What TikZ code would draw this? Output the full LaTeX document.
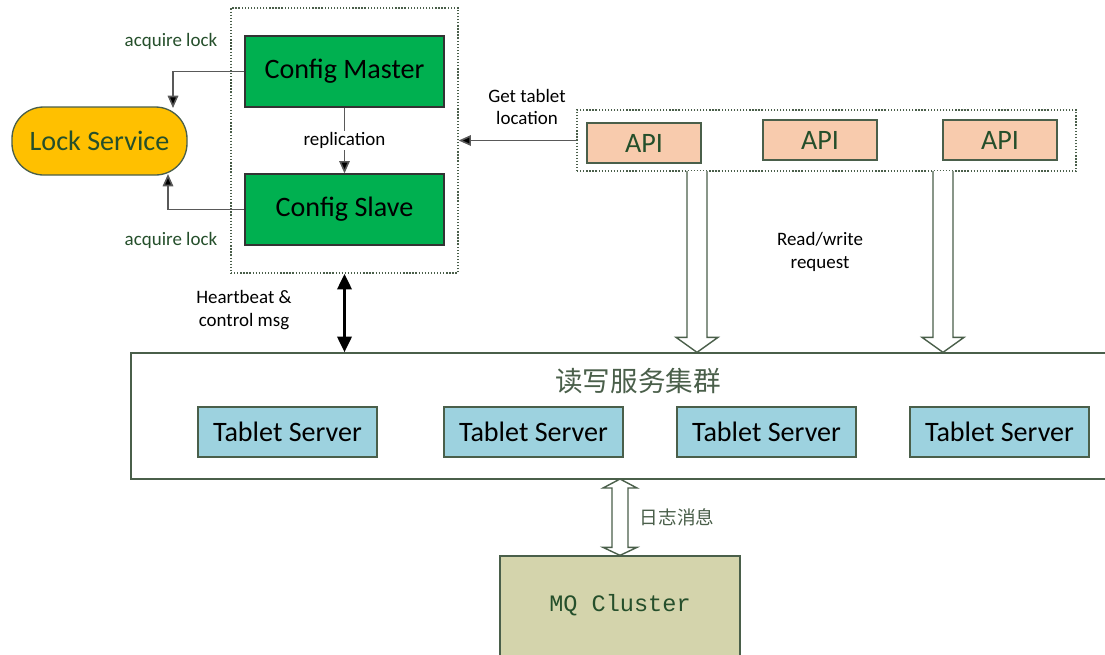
\documentclass[tikz,border=0pt]{standalone}
\usepackage{fontspec}
\setmainfont{Carlito}
\setmonofont{Liberation Mono}
\newfontfamily\cjk{Noto Sans CJK SC}
\usepackage{tikz}
\usetikzlibrary{positioning,arrows.meta,calc,fit}
\definecolor{cfggreen}{HTML}{00B050}
\definecolor{lockyellow}{HTML}{FFC000}
\definecolor{txtgreen}{HTML}{254F2B}
\definecolor{edgegray}{HTML}{4A5F4A}
\definecolor{apipeach}{HTML}{F8CBAD}
\definecolor{tabletblue}{HTML}{9DD2DF}
\definecolor{mqolive}{HTML}{D4D4AC}
\tikzset{every picture/.style={line width=0.75pt}}
\tikzset{
  box/.style={draw=edgegray, inner sep=0pt},
  big/.style={font=\fontsize{16}{18}\selectfont},
  cfgnode/.style={box, fill=cfggreen, draw=black!80},
  apinode/.style={box, fill=apipeach},
  tabletnode/.style={box, fill=tabletblue},
  groupbox/.style={draw=edgegray, densely dotted, inner sep=0pt},
  note/.style={font=\fontsize{10.8}{13}\selectfont, align=center},
  thin arrow/.style={draw=black!65, line width=0.9pt, -{Triangle[length=7pt,width=6pt,fill=black]}},
  hollow/.style={draw=edgegray, fill=white, line width=0.8pt, line join=miter},
}
\begin{document}
\begin{tikzpicture}[x=0.02cm, y=-0.02cm]
\useasboundingbox (0,0) rectangle (1105,654);
% config group
\node[groupbox, fit={(231,8) (458,273)}] (cfg) {};
\node[cfgnode, fit={(245,36) (444,107)}] (master) {};
\node[big] at (master.center) {Config Master};
\node[cfgnode, fit={(245,174) (444,245)}] (slave) {};
\node[big] at (slave.center) {Config Slave};
\node[box, fill=lockyellow, rounded corners=18pt, fit={(12,107) (187,175)}] (lock) {};
\node[big, text=txtgreen] at (lock.center) {Lock Service};
%
\coordinate (lockin) at (173,108);
\coordinate (lockout) at (168,174);
\draw[thin arrow] (master.west) -| (lockin);
\draw[thin arrow] (slave.west) -| (lockout);
\node[note, text=txtgreen] (acq1) at (171,41) {acquire lock};
\node[note, text=txtgreen] (acq2) at (171,240) {acquire lock};
\draw[thin arrow] (master.south) -- (slave.north)
  node[midway, fill=white, note, inner sep=1pt] (repl) {replication};
% api group
\node[groupbox, fit={(577,110) (1076,171)}] (apis) {};
\node[apinode, fit={(587,123) (701,163)}] (api1) {};
\node[big, text=txtgreen] at (api1.center) {API};
\node[apinode, fit={(763,120) (877,160)}] (api2) {};
\node[big, text=txtgreen] at (api2.center) {API};
\node[apinode, fit={(943,120) (1057,160)}] (api3) {};
\node[big, text=txtgreen] at (api3.center) {API};
\draw[thin arrow] (apis.west) -- (apis.west -| cfg.east);
\node[note] (gettab) at (527,107) {Get tablet\\location};
% server cluster
\node[draw=edgegray, inner sep=0pt, fit={(131,353) (1112,479)}] (cluster) {};
\node[text=edgegray] (clname) at (638,381) {\cjk\fontsize{15.7}{18}\selectfont 读写服务集群};
\node[tabletnode, fit={(198,407) (377,457)}] (ts1) {};
\node[big] at (ts1.center) {Tablet Server};
\node[tabletnode, fit={(444,407) (623,457)}] (ts2) {};
\node[big] at (ts2.center) {Tablet Server};
\node[tabletnode, fit={(677,407) (856,457)}] (ts3) {};
\node[big] at (ts3.center) {Tablet Server};
\node[tabletnode, fit={(910,407) (1089,457)}] (ts4) {};
\node[big] at (ts4.center) {Tablet Server};
% read/write requests
\foreach \xc/\nm in {697/rwa, 943/rwb} {
  \coordinate (\nm) at (\xc,171);
  \draw[hollow] ($(\nm)+(-10,0)$) -- ($(\nm |- cluster.north)+(-10,-15)$)
    -- ($(\nm |- cluster.north)+(-21,-15)$) -- (\nm |- cluster.north)
    -- ($(\nm |- cluster.north)+(21,-15)$) -- ($(\nm |- cluster.north)+(10,-15)$)
    -- ($(\nm)+(10,0)$);
}
\node[note] (rwreq) at (820,252) {Read/write\\request};
% heartbeat
\draw[line width=2pt, {Triangle[length=9pt,width=8pt]}-{Triangle[length=9pt,width=8pt]}]
  (cfg.south) -- (cfg.south |- cluster.north);
\node[note] (hb) at (244,310) {Heartbeat \&\\control msg};
% mq cluster
\node[draw=edgegray, fill=mqolive, inner sep=0pt, fit={(500,556) (740,662)}] (mq) {};
\node[text=txtgreen] (mqname) at (620,605) {\ttfamily\fontsize{13.4}{15}\selectfont MQ Cluster};
\coordinate (logtop) at (620,479);
\draw[hollow] (logtop) -- ++(17,9) -- ++(-9,0) -- ($(logtop |- mq.north)+(8,-8)$)
  -- ($(logtop |- mq.north)+(17,-8)$) -- (logtop |- mq.north)
  -- ($(logtop |- mq.north)+(-17,-8)$) -- ($(logtop |- mq.north)+(-8,-8)$)
  -- ($(logtop)+(-8,9)$) -- ($(logtop)+(-17,9)$) -- cycle;
\node[text=edgegray] (logmsg) at (677,517) {\cjk\fontsize{10.6}{12}\selectfont 日志消息};
\end{tikzpicture}
\end{document}
